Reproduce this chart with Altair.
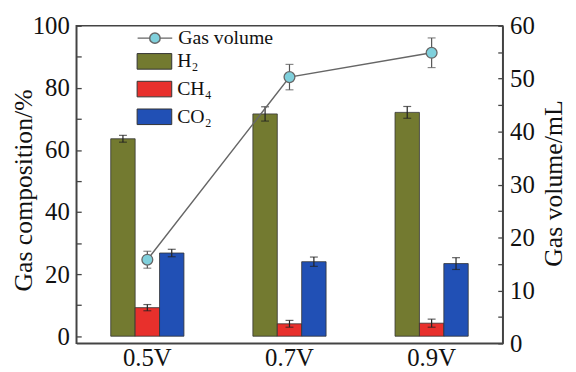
import altair as alt
import pandas as pd

voltages = ["0.5V", "0.7V", "0.9V"]
gases = ["H₂", "CH₄", "CO₂"]
gas_colors = ["#737a30", "#e8302c", "#2150b5"]

h2 = [63.6, 71.6, 72.1]
h2_err = [1.1, 2.3, 1.9]
ch4 = [9.2, 4.0, 4.2]
ch4_err = [1.0, 1.1, 1.3]
co2 = [26.8, 24.0, 23.4]
co2_err = [1.2, 1.5, 1.9]

gas_volume = [15.8, 50.3, 54.9]
gas_volume_err = [1.6, 2.4, 2.8]

rows = []
for g, vals, errs in zip(gases, [h2, ch4, co2], [h2_err, ch4_err, co2_err]):
    for v, val, e in zip(voltages, vals, errs):
        rows.append({"voltage": v, "gas": g, "value": val, "lo": val - e, "hi": val + e})
bars_df = pd.DataFrame(rows)

vol_df = pd.DataFrame({
    "voltage": voltages,
    "volume": gas_volume,
    "lo": [a - b for a, b in zip(gas_volume, gas_volume_err)],
    "hi": [a + b for a, b in zip(gas_volume, gas_volume_err)],
    "series": ["Gas volume"] * 3,
})

FONT = "Liberation Serif, Times New Roman, serif"
AX = "#444444"
TXT = "#111111"

x_axis = alt.Axis(title=None, labelFont=FONT, labelFontSize=25, labelColor=TXT,
                  ticks=False, labelPadding=2, domainColor=AX, domainWidth=1.5, labelAngle=0)
X = alt.X("voltage:N", sort=voltages, scale=alt.Scale(paddingInner=0.485, paddingOuter=0.2425), axis=x_axis)
XO = alt.XOffset("gas:N", sort=gases, scale=alt.Scale(paddingInner=0, paddingOuter=0))

left_axis = alt.Axis(values=list(range(0, 101, 10)),
                     labelExpr="datum.value % 20 == 0 ? datum.label : ''",
                     title="Gas composition/%", titleFont=FONT, titleFontSize=26,
                     titleFontWeight="normal", titleColor=TXT,
                     titleX=-53, titleY=166, titleBaseline="middle", titleAlign="center", titleAngle=270,
                     labelFont=FONT, labelFontSize=25, labelColor=TXT, labelPadding=12,
                     tickSize={"expr": "-5"}, tickColor=AX, tickWidth=1.3,
                     domainColor=AX, domainWidth=1.5, grid=False)
YL = alt.Scale(domain=[-2.3, 100], nice=False, zero=False)

bars = alt.Chart(bars_df).mark_bar(stroke="#333333", strokeWidth=0.8).encode(
    x=X, xOffset=XO,
    y=alt.Y("value:Q", scale=YL, axis=left_axis),
    fill=alt.Fill("gas:N", sort=gases, scale=alt.Scale(domain=gases, range=gas_colors),
                  legend=alt.Legend(orient="none", legendX=61, legendY=18, title=None,
                                    symbolType="M-1,-0.45H1V0.45H-1Z", symbolSize=1225,
                                    symbolStrokeColor="#333333", symbolStrokeWidth=1,
                                    labelFont=FONT, labelFontSize=20, labelColor=TXT,
                                    labelOffset=5, rowPadding=-4, padding=0)),
)
bar_rule = alt.Chart(bars_df).mark_rule(color="#222", strokeWidth=1.2).encode(
    x=X, xOffset=XO, y=alt.Y("lo:Q", scale=YL, axis=left_axis), y2="hi:Q")
bar_cap_lo = alt.Chart(bars_df).mark_tick(color="#222", size=8, thickness=1.2, orient="horizontal").encode(
    x=X, xOffset=XO, y=alt.Y("lo:Q", scale=YL, axis=left_axis))
bar_cap_hi = alt.Chart(bars_df).mark_tick(color="#222", size=8, thickness=1.2, orient="horizontal").encode(
    x=X, xOffset=XO, y=alt.Y("hi:Q", scale=YL, axis=left_axis))

right_axis = alt.Axis(orient="right", values=list(range(0, 61, 5)),
                      labelExpr="datum.value % 10 == 0 ? datum.label : ''",
                      title="Gas volume/mL", titleFont=FONT, titleFontSize=26,
                      titleFontWeight="normal", titleColor=TXT,
                      titleX=51, titleY=159, titleBaseline="middle", titleAlign="center", titleAngle=270,
                      labelFont=FONT, labelFontSize=25, labelColor=TXT, labelPadding=12,
                      tickSize={"expr": "-5"}, tickColor=AX, tickWidth=1.3,
                      domainColor=AX, domainWidth=1.5, grid=False)
YR = alt.Scale(domain=[0, 60], nice=False)

vol_line = alt.Chart(vol_df).mark_line(strokeWidth=1.5).encode(
    x=X,
    y=alt.Y("volume:Q", scale=YR, axis=right_axis),
    stroke=alt.Stroke("series:N", scale=alt.Scale(range=["#666666"]),
                      legend=alt.Legend(orient="none", legendX=61, legendY=-6, title=None,
                                        symbolType="M-1,0H-0.3M0.3,0H1M-0.3,0A0.3,0.3 0 1 1 0.3,0A0.3,0.3 0 1 1 -0.3,0Z",
                                        symbolSize=1225, symbolStrokeWidth=1.5,
                                        symbolFillColor="#7fd0dc",
                                        labelFont=FONT, labelFontSize=20, labelColor=TXT,
                                        labelOffset=5, padding=0)),
)
vol_rule = alt.Chart(vol_df).mark_rule(color="#555", strokeWidth=1.2).encode(
    x=X, y=alt.Y("lo:Q", scale=YR, axis=right_axis), y2="hi:Q")
vol_cap_lo = alt.Chart(vol_df).mark_tick(color="#555", size=8, thickness=1.2, orient="horizontal").encode(
    x=X, y=alt.Y("lo:Q", scale=YR, axis=right_axis))
vol_cap_hi = alt.Chart(vol_df).mark_tick(color="#555", size=8, thickness=1.2, orient="horizontal").encode(
    x=X, y=alt.Y("hi:Q", scale=YR, axis=right_axis))
vol_pts = alt.Chart(vol_df).mark_circle(size=120, color="#7fd0dc", stroke="#666666",
                                        strokeWidth=1.3, opacity=1).encode(
    x=X, y=alt.Y("volume:Q", scale=YR, axis=right_axis))

left = alt.layer(bars, bar_rule, bar_cap_lo, bar_cap_hi)
right = alt.layer(vol_rule, vol_cap_lo, vol_cap_hi, vol_line, vol_pts)

chart = alt.layer(left, right).resolve_scale(y="independent", fill="independent", stroke="independent").properties(
    width=431, height=321,
    padding={"left": 69, "top": 16, "right": 66, "bottom": 27},
    autosize=alt.AutoSizeParams(type="none"),
    background="white",
).configure_view(stroke=AX, strokeWidth=1.5)

chart.save("out.html", embed_options={"renderer": "svg", "actions": False})
